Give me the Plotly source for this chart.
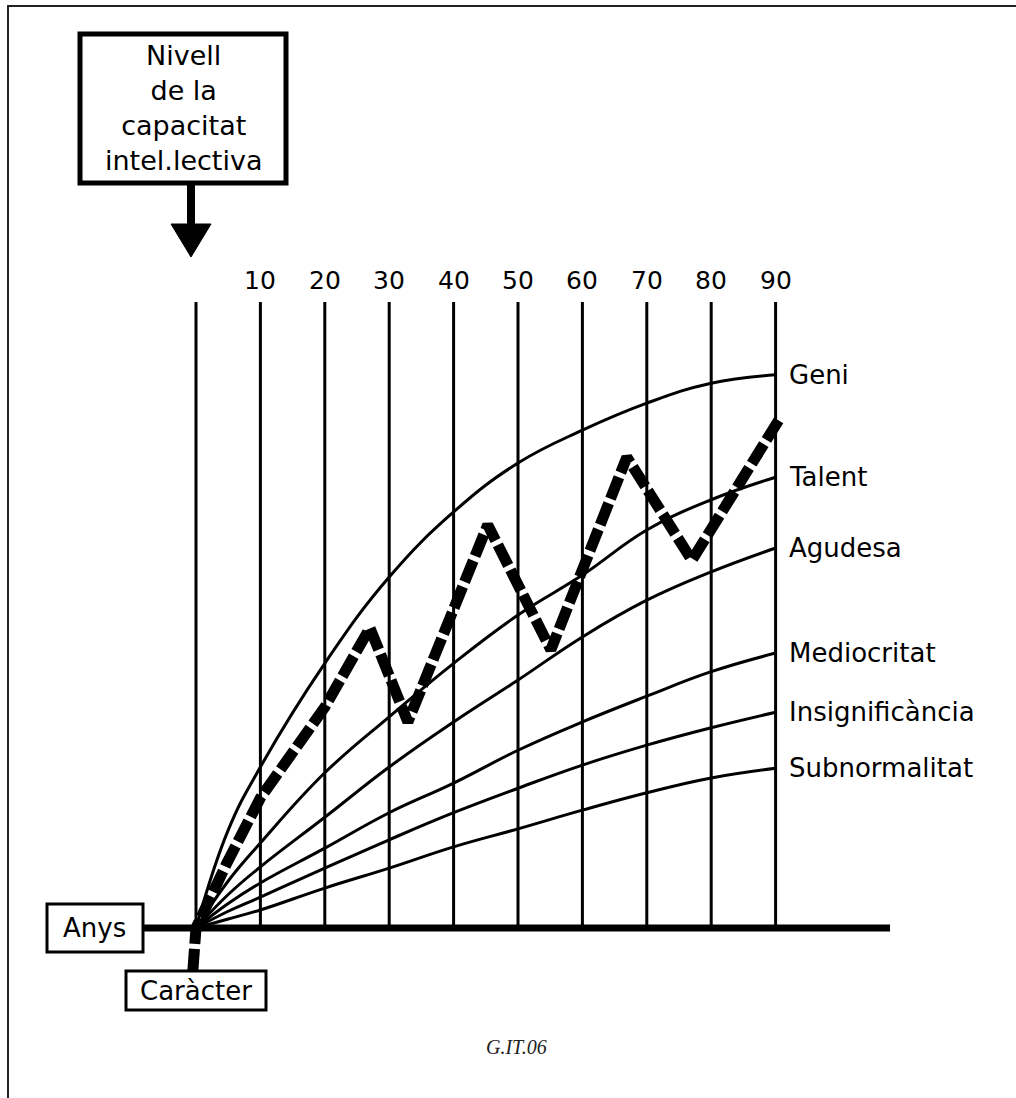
import plotly.graph_objects as go

# ---------------- data ----------------
ages = [0, 5, 10, 20, 30, 40, 50, 60, 70, 80, 90]
geni = [0, 15.2, 25.0, 41.1, 54.5, 64.6, 72.2, 77.3, 81.5, 84.6, 85.9]
talent = [0, 7.3, 13.2, 24.1, 32.8, 41.1, 48.6, 54.8, 61.8, 66.5, 70.0]
agudesa = [0, 5.2, 9.5, 17.2, 25.0, 32.0, 38.5, 45.2, 50.9, 55.3, 59.0]
mediocritat = [0, 3.8, 7.0, 12.4, 17.9, 22.5, 27.6, 32.0, 36.0, 39.8, 42.7]
insignificancia = [0, 2.6, 4.8, 9.3, 13.7, 17.9, 21.7, 25.3, 28.4, 31.1, 33.5]
subnormalitat = [0, 1.4, 2.8, 6.2, 9.3, 12.6, 15.4, 18.3, 21.0, 23.3, 24.8]

level_names = ["Geni", "Talent", "Agudesa", "Mediocritat",
               "Insignificància", "Subnormalitat"]
level_values = [geni, talent, agudesa, mediocritat, insignificancia, subnormalitat]

caracter_x = [-0.5, 0, 4.8, 10, 20, 27.0, 32.9, 45.3, 55.1, 66.9, 77.0, 90.7]
caracter_y = [-6.8, 0, 10.1, 20.2, 34.3, 46.6, 32.0, 62.6, 43.2, 73.1, 57.1, 79.2]

decades = [0, 10, 20, 30, 40, 50, 60, 70, 80, 90]
tick_labels = ["", "10", "20", "30", "40", "50", "60", "70", "80", "90"]

title_text = "Nivell<br>de la<br>capacitat<br>intel.lectiva"
code_text = "G.IT.06"

# ---------------- geometry ----------------
W, H = 1016, 1098
FONT = "DejaVu Sans"
SCALE = 6.44                 # pixels per unit
X0, Y0 = 196, 928            # origin in figure pixels


def px(x):
    return x / W


def py(y):
    return 1 - y / H


fig = go.Figure()

for name, vals in zip(level_names, level_values):
    fig.add_trace(go.Scatter(
        x=ages, y=vals, mode="lines", name=name,
        line=dict(color="black", width=3, shape="spline", smoothing=1.2),
        hoverinfo="skip", showlegend=False))

fig.add_trace(go.Scatter(
    x=caracter_x, y=caracter_y, mode="lines", name="Caràcter",
    line=dict(color="black", width=11, dash="23px,5px"),
    hoverinfo="skip", showlegend=False))

shapes = []
# vertical decade lines
for d in decades:
    shapes.append(dict(type="line", xref="x", yref="y", x0=d, x1=d,
                       y0=0, y1=97.2, layer="below",
                       line=dict(color="black", width=3)))
# horizontal axis (Anys)
shapes.append(dict(type="line", xref="paper", yref="y",
                   x0=px(143), x1=px(890), y0=0, y1=0, layer="below",
                   line=dict(color="black", width=7)))

# outer frame (top and left visible)
shapes.append(dict(type="rect", xref="paper", yref="paper",
                   x0=px(8), x1=px(1040), y0=py(6), y1=py(1120),
                   line=dict(color="#222", width=2)))

# title box
shapes.append(dict(type="rect", xref="paper", yref="paper",
                   x0=px(80), x1=px(286), y0=py(34), y1=py(183),
                   fillcolor="white",
                   line=dict(color="black", width=5)))
# arrow stem
shapes.append(dict(type="line", xref="paper", yref="paper",
                   x0=px(191), x1=px(191), y0=py(185), y1=py(228),
                   line=dict(color="black", width=8)))
# arrow head
shapes.append(dict(type="path", xref="paper", yref="paper",
                   path="M {} {} L {} {} L {} {} Z".format(
                       px(171), py(224), px(211), py(224), px(191), py(257)),
                   fillcolor="black", line=dict(color="black", width=1)))

# Anys box
shapes.append(dict(type="rect", xref="paper", yref="paper",
                   x0=px(47), x1=px(143), y0=py(904), y1=py(952),
                   fillcolor="white", line=dict(color="black", width=3)))
# Caràcter box
shapes.append(dict(type="rect", xref="paper", yref="paper",
                   x0=px(126), x1=px(266), y0=py(971), y1=py(1010),
                   fillcolor="white", line=dict(color="black", width=3)))

annotations = []
# title text
annotations.append(dict(xref="paper", yref="paper", x=px(183), y=py(108),
                        text=title_text, showarrow=False,
                        xanchor="center", yanchor="middle", align="center",
                        font=dict(family=FONT, size=27, color="black")))
# tick labels
for d, t in zip(decades, tick_labels):
    if t:
        annotations.append(dict(xref="x", yref="paper", x=d, y=py(280),
                                text=t, showarrow=False,
                                xanchor="center", yanchor="middle",
                                font=dict(family=FONT, size=25, color="black")))
# curve labels
for name, vals in zip(level_names, level_values):
    annotations.append(dict(xref="x", yref="y", x=91.8, y=vals[-1],
                            text=name, showarrow=False,
                            xanchor="left", yanchor="middle",
                            font=dict(family=FONT, size=26, color="black")))
# Anys / Caràcter
annotations.append(dict(xref="paper", yref="paper", x=px(94), y=py(928),
                        text="Anys", showarrow=False,
                        xanchor="center", yanchor="middle",
                        font=dict(family=FONT, size=26, color="black")))
annotations.append(dict(xref="paper", yref="paper", x=px(196), y=py(991),
                        text="Caràcter", showarrow=False,
                        xanchor="center", yanchor="middle",
                        font=dict(family=FONT, size=26, color="black")))
# code
annotations.append(dict(xref="paper", yref="paper", x=px(516), y=py(1047),
                        text="<i>" + code_text + "</i>", showarrow=False,
                        xanchor="center", yanchor="middle",
                        font=dict(family="Liberation Serif", size=20, color="#222")))

fig.update_layout(
    width=W, height=H,
    margin=dict(l=0, r=0, t=0, b=0),
    paper_bgcolor="white", plot_bgcolor="white",
    xaxis=dict(range=[-X0 / SCALE, (W - X0) / SCALE], visible=False,
               fixedrange=True),
    yaxis=dict(range=[-(H - Y0) / SCALE, Y0 / SCALE], visible=False,
               fixedrange=True),
    shapes=shapes, annotations=annotations,
    showlegend=False,
)

fig.write_html("out.html",
               config={"displayModeBar": False, "staticPlot": True},
               post_script="document.body.style.margin='0';"
                           "document.body.style.overflow='hidden';")
